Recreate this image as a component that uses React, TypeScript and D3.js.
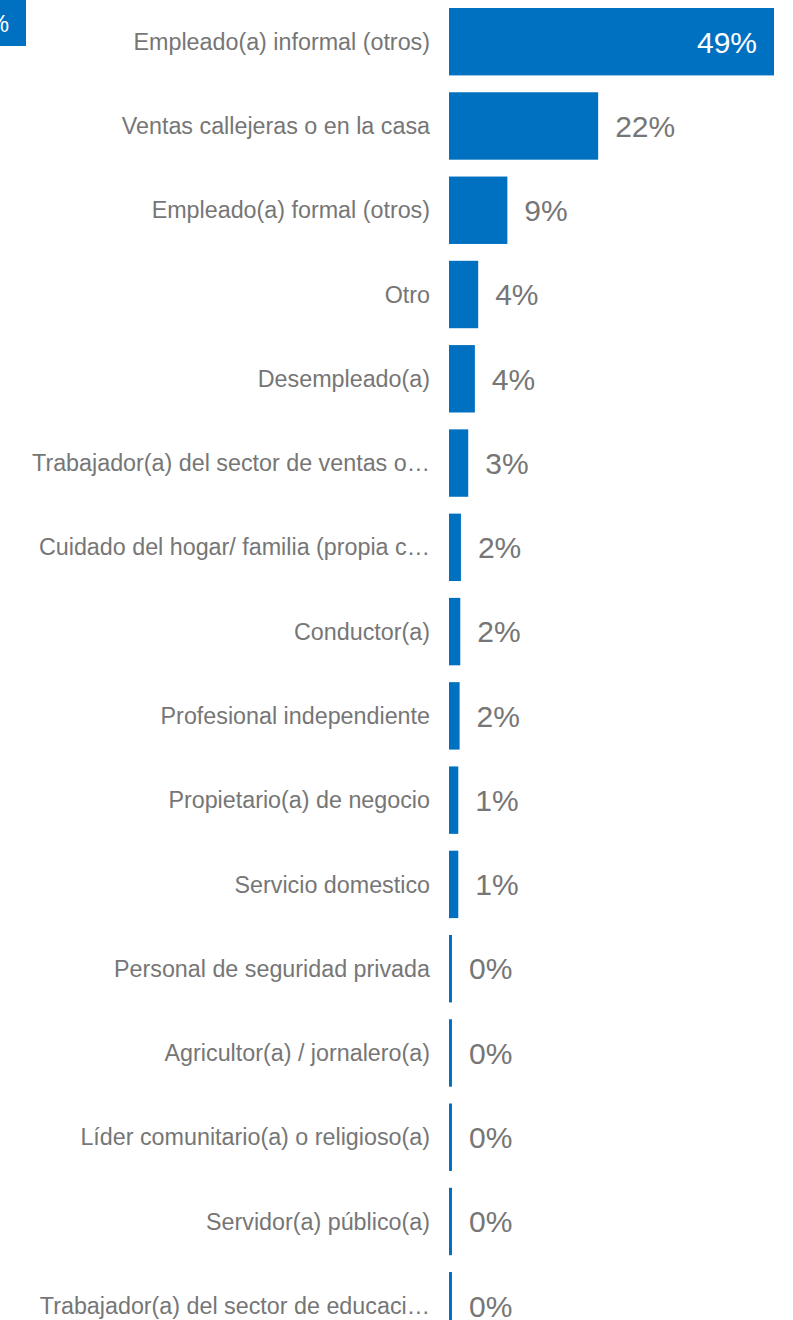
import React from "react";
import * as d3 from "d3";

const categories = [
  "Empleado(a) informal (otros)",
  "Ventas callejeras o en la casa",
  "Empleado(a) formal (otros)",
  "Otro",
  "Desempleado(a)",
  "Trabajador(a) del sector de ventas o…",
  "Cuidado del hogar/ familia (propia c…",
  "Conductor(a)",
  "Profesional independiente",
  "Propietario(a) de negocio",
  "Servicio domestico",
  "Personal de seguridad privada",
  "Agricultor(a) / jornalero(a)",
  "Líder comunitario(a) o religioso(a)",
  "Servidor(a) público(a)",
  "Trabajador(a) del sector de educaci…",
];

const values = [49, 22.49, 8.8, 4.4, 3.9, 2.9, 1.8, 1.7, 1.6, 1.4, 1.4, 0.45, 0.45, 0.45, 0.45, 0.45];

const W = 793;
const H = 1320;
const BLUE = "#0070c0";
const GRAY = "#767676";
const FONT = "'Liberation Sans', Arial, sans-serif";

export default function App() {
  const step = 84.27;
  const y = d3
    .scaleBand<string>()
    .domain(categories)
    .range([8, 8 + step * 15.8])
    .paddingInner(0.2)
    .paddingOuter(0);
  const x = d3.scaleLinear().domain([0, 49]).range([449, 774]);
  const fmt = (v: number) => `${Math.round(v)}%`;

  return (
    <svg
      width={W}
      height={H}
      style={{ position: "absolute", left: 0, top: 0, background: "#fff" }}
    >
      <rect x={0} y={0} width={26} height={46} fill={BLUE} />
      <text x={9} y={32} fill="#fff" fontSize={24} fontFamily={FONT} textAnchor="end">
        %
      </text>
      {categories.map((c, i) => {
        const v = values[i];
        const y0 = y(c)!;
        const bw = y.bandwidth();
        const cy = y0 + bw / 2;
        const xe = x(v);
        const inside = xe - x(0) > 200;
        return (
          <g key={c}>
            <text
              x={430}
              y={cy}
              dy="0.35em"
              textAnchor="end"
              fill={GRAY}
              fontSize={23.3}
              fontFamily={FONT}
            >
              {c}
            </text>
            <rect x={x(0)} y={y0} width={xe - x(0)} height={bw} fill={BLUE} />
            <text
              x={inside ? xe - 17 : xe + 17}
              y={cy}
              dy="0.36em"
              textAnchor={inside ? "end" : "start"}
              fill={inside ? "#fff" : GRAY}
              fontSize={30}
              fontFamily={FONT}
            >
              {fmt(v)}
            </text>
          </g>
        );
      })}
    </svg>
  );
}
